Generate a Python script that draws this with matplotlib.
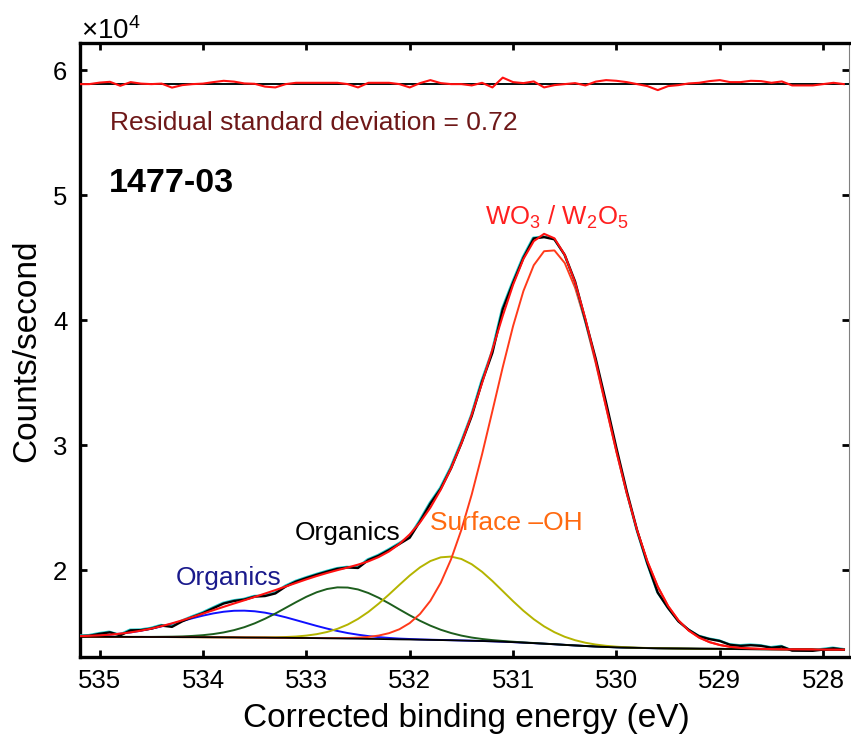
import numpy as np
import matplotlib
matplotlib.use("Agg")
import matplotlib.pyplot as plt
from matplotlib.transforms import offset_copy

plt.rcParams['font.family'] = ['Liberation Sans', 'DejaVu Sans']
plt.rcParams['mathtext.fontset'] = 'custom'
plt.rcParams['mathtext.rm'] = 'Liberation Sans'
plt.rcParams['mathtext.default'] = 'regular'

# Binding-energy grid (eV), 0.1 eV steps, high to low
energy = np.round(np.arange(535.2, 527.75, -0.1), 1)

# Shirley background (counts/s)
background = [
    14660, 14660, 14655, 14650, 14650, 14645, 14645, 14640, 14640, 14635,
    14630, 14630, 14625, 14620, 14615, 14610, 14600, 14595, 14590, 14580,
    14575, 14565, 14560, 14550, 14540, 14530, 14515, 14505, 14490, 14480,
    14465, 14450, 14440, 14425, 14410, 14395, 14380, 14360, 14340, 14320,
    14295, 14265, 14230, 14190, 14150, 14105, 14060, 14010, 13965, 13920,
    13880, 13845, 13815, 13790, 13770, 13755, 13740, 13730, 13720, 13710,
    13700, 13695, 13690, 13680, 13675, 13670, 13665, 13660, 13655, 13650,
    13645, 13640, 13635, 13630, 13625,
]

# Fit residual (measured - fit, counts/s)
residual = [
    0, 0, 120, 185, -135, 160, 40, 0, 40, -280,
    -80, 0, 40, 160, 265, 200, 55, 25, -200, -265,
    0, 105, 105, 105, 105, 105, 0, -265, 105, 105,
    105, 0, -265, 80, 320, 80, 0, 0, -105, 105,
    -265, 520, 160, 80, 215, -265, -80, 0, 80, -105,
    200, 320, 265, 160, 0, -160, -480, -160, -80, 55,
    105, 240, 320, 160, 160, 265, 240, 105, 215, -105,
    -105, -105, 0, 105, 0,
]

# Fitted O 1s components: centre (eV), height above background, FWHM (eV)
peak_labels = ["Organics (C–O)", "Organics (C=O)", "Surface –OH", "WO3 / W2O5"]
peak_centers = [533.62, 532.65, 531.62, 530.64]
peak_heights = [2150, 4100, 6700, 31600]
peak_fwhm = [1.35, 1.25, 1.22, 1.27]
peak_colors = ["#1010ff", "#1d5e1d", "#b4b400", "#ff3a1a"]

residual_offset = 58880

E = energy
bg = np.array(background, dtype=float)
res = np.array(residual, dtype=float)


def gaussian(x, c, h, w):
    return h * np.exp(-4 * np.log(2) * (x - c) ** 2 / w ** 2)


components = [gaussian(E, c, h, w) for c, h, w in zip(peak_centers, peak_heights, peak_fwhm)]
fit = bg + np.sum(components, axis=0)
measured = fit + res

W, H = 851, 737
fig = plt.figure(figsize=(W / 100, H / 100), dpi=100)
ax = fig.add_axes([80 / W, 80 / H, 769 / W, 613.5 / H])

# components drawn on top of the background
for comp, col in zip(components, peak_colors):
    ax.plot(E, bg + comp, color=col, lw=1.4, zorder=2)
ax.plot(E, bg, color="black", lw=1.3, zorder=3)

# measured spectrum (black over a cyan trace)
cyan_tr = offset_copy(ax.transData, fig=fig, x=-0.6, y=0.6, units='points')
ax.plot(E, measured, color="#20c8c8", lw=1.4, zorder=4, transform=cyan_tr)
ax.plot(E, measured, color="black", lw=1.7, zorder=5)
ax.plot(E, fit, color="#ff1010", lw=1.5, zorder=6)

# residual trace
ax.axhline(residual_offset - 25, color="#20c8c8", lw=1.3, zorder=4)
ax.axhline(residual_offset, color="black", lw=1.3, zorder=5)
ax.plot(E, residual_offset + res, color="#ff1010", lw=1.5, zorder=6)

ax.set_xlim(535.19, 527.75)
ax.set_ylim(13040, 62130)
ax.set_xticks(np.arange(528, 536))
ax.set_xticklabels([str(v) for v in range(528, 536)])
ax.set_yticks([20000, 30000, 40000, 50000, 60000])
ax.set_yticklabels(["2", "3", "4", "5", "6"])
ax.tick_params(direction='in', top=True, right=True, length=5, width=2,
               labelsize=18.5, colors="black")
ax.tick_params(axis='x', pad=9)
ax.tick_params(axis='y', pad=9)

for side in ("left", "bottom", "top"):
    ax.spines[side].set_linewidth(2.4)
ax.spines["right"].set_linewidth(0.8)
ax.spines["right"].set_color("#808080")


def ftext(px, py, s, **kw):
    fig.text(px / W, 1 - py / H, s, **kw)


ftext(466, 718, "Corrected binding energy (eV)", ha="center", va="center", fontsize=24)
ftext(27, 351, "Counts/second", ha="center", va="center", rotation=90, fontsize=24)
ftext(81, 31, r"$\times 10^{4}$", ha="left", va="center", fontsize=20)

ftext(110, 123, "Residual standard deviation = 0.72", ha="left", va="center",
      fontsize=19, color="#6e1818")
ftext(109, 184, "1477-03", ha="left", va="center", fontsize=24.5, fontweight="bold")
ftext(557, 217, r"WO$_3$ / W$_2$O$_5$", ha="center", va="center", fontsize=18.5, color="#ff2020")
ftext(348, 533, "Organics", ha="center", va="center", fontsize=19, color="black")
ftext(506, 523, "Surface –OH", ha="center", va="center", fontsize=19, color="#ff6a10")
ftext(229, 578, "Organics", ha="center", va="center", fontsize=19, color="#1a1a8c")

fig.savefig("out.png", dpi=100)
